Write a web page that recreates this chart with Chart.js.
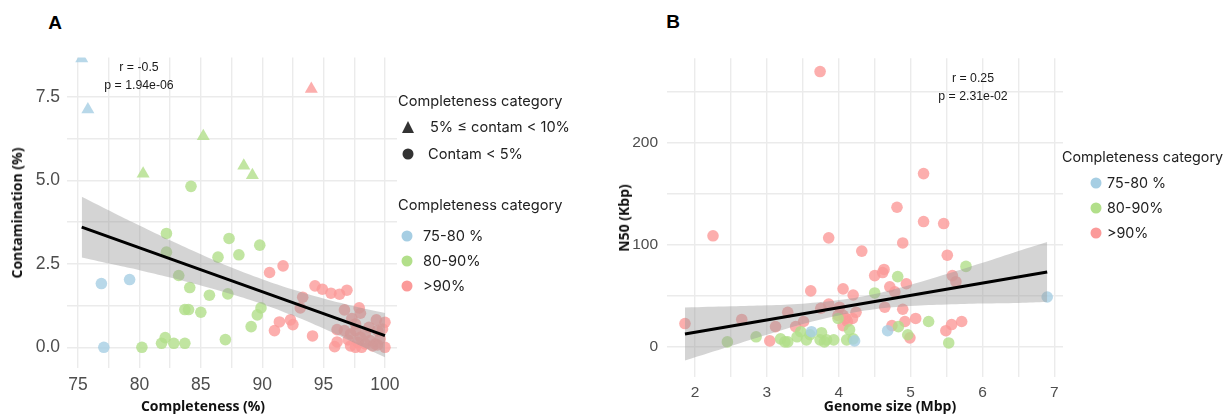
<!DOCTYPE html>
<html lang="en"><head>
<meta charset="UTF-8" />
<title>Completeness, contamination and N50</title>
<script src="https://cdn.jsdelivr.net/npm/chart.js"></script>
<style>
  * { margin: 0; padding: 0; box-sizing: border-box; }
  body { background: #fff; width: 1229px; height: 415px; overflow: hidden; }
  #wrap { position: relative; width: 1229px; height: 415px; }
  canvas { position: absolute; }
  #chartA { left: 0; top: 40px; }
  #chartB { left: 600px; top: 40px; }
  .t { position: absolute; white-space: nowrap; color: #1a1a1a; line-height: 1; }
  .c { transform: translate(-50%, -50%); }
  .l { transform: translateY(-50%); }
  .panel { font: bold 19px "Liberation Sans", Arial, sans-serif; color: #000; }
  .stat { font: 12.3px "Liberation Sans", Arial, sans-serif; color: #1a1a1a; }
  .axt { font: bold 14px "Open Sans", sans-serif; color: #111; line-height: 1; }
  .rot { transform: translate(-50%, -50%) rotate(-90deg); }
  .leg { font: 14.6px Inter, sans-serif; color: #222; line-height: 1; }
  .legB { font: 14.3px Inter, sans-serif; color: #222; line-height: 1; }
  .dot { position: absolute; width: 11px; height: 11px; border-radius: 50%; transform: translate(-50%, -50%); }
  .tri { position: absolute; width: 0; height: 0; transform: translate(-50%, -50%);
         border-left: 6.5px solid transparent; border-right: 6.5px solid transparent; border-bottom: 12px solid #333; }
</style>
</head>
<body>
<div id="wrap">
  <canvas id="chartA" width="422" height="375"></canvas>
  <canvas id="chartB" width="490" height="375"></canvas>

  <div class="t c panel" style="left:55px;top:23px">A</div>
  <div class="t c panel" style="left:673px;top:22px">B</div>

  <div class="t c stat" style="left:139px;top:67px">r = -0.5</div>
  <div class="t c stat" style="left:139px;top:85px">p = 1.94e-06</div>
  <div class="t c stat" style="left:973px;top:78px">r = 0.25</div>
  <div class="t c stat" style="left:973px;top:96px">p = 2.31e-02</div>

  <div class="t axt rot" style="left:17px;top:213px">Contamination (%)</div>
  <div class="t c axt" style="left:203px;top:406px">Completeness (%)</div>
  <div class="t axt rot" style="left:624px;top:218px">N50 (Kbp)</div>
  <div class="t c axt" style="left:890px;top:406px">Genome size (Mbp)</div>

  <!-- legend A -->
  <div class="t l leg" style="left:398px;top:101px">Completeness category</div>
  <div class="tri" style="left:408px;top:127px"></div>
  <div class="t l leg" style="left:430px;top:127px">5% ≤ contam &lt; 10%</div>
  <div class="dot" style="left:408px;top:154px;background:#333"></div>
  <div class="t l leg" style="left:428px;top:154px">Contam &lt; 5%</div>
  <div class="t l leg" style="left:398px;top:205px">Completeness category</div>
  <div class="dot" style="left:407px;top:236px;background:#a6cee3"></div>
  <div class="t l leg" style="left:423px;top:236px">75-80 %</div>
  <div class="dot" style="left:407px;top:261px;background:#b2df8a"></div>
  <div class="t l leg" style="left:423px;top:261px">80-90%</div>
  <div class="dot" style="left:407px;top:286px;background:#fb9a99"></div>
  <div class="t l leg" style="left:423px;top:286px">&gt;90%</div>

  <!-- legend B -->
  <div class="t l legB" style="left:1062px;top:157px">Completeness category</div>
  <div class="dot" style="left:1096px;top:183px;background:#a6cee3"></div>
  <div class="t l legB" style="left:1107px;top:183px">75-80 %</div>
  <div class="dot" style="left:1096px;top:208px;background:#b2df8a"></div>
  <div class="t l legB" style="left:1107px;top:208px">80-90%</div>
  <div class="dot" style="left:1096px;top:233px;background:#fb9a99"></div>
  <div class="t l legB" style="left:1107px;top:233px">&gt;90%</div>
</div>

<script>
  // ---- panel A : completeness (%) vs contamination (%) ----
  const aBlueTriX = [75.3, 75.8];
  const aBlueTriY = [8.65, 7.12];
  const aBlueX = [76.9, 79.2, 77.1];
  const aBlueY = [1.91, 2.03, 0.0];
  const aGreenTriX = [80.3, 85.2, 88.5, 89.2];
  const aGreenTriY = [5.2, 6.32, 5.44, 5.15];
  const aGreenX = [84.2, 82.2, 82.2, 83.2, 84.1, 83.7, 84.0, 85.0, 85.7, 86.4, 87.2, 87.3, 88.1, 89.8, 89.9, 89.6, 89.1, 87.0, 82.1, 81.8, 82.8, 83.7, 80.2];
  const aGreenY = [4.82, 3.41, 2.85, 2.15, 1.79, 1.13, 1.13, 1.05, 1.56, 2.70, 1.60, 3.26, 2.77, 3.06, 1.18, 0.97, 0.62, 0.23, 0.29, 0.12, 0.12, 0.12, 0.0];
  const aRedTriX = [94.0];
  const aRedTriY = [7.74];
  const aRedX = [90.6, 91.7, 91.0, 91.4, 92.3, 92.5, 93.3, 93.1, 94.1, 94.3, 94.9, 95.6, 96.3, 96.9, 96.7, 97.3, 97.9, 98.0, 99.3, 100.0,
                 96.1, 96.7, 97.2, 97.6, 98.4, 98.7, 99.4, 99.8, 95.9, 96.1, 97.0, 97.2, 97.6, 98.1, 98.4, 99.0, 99.4, 100.0, 98.8, 98.0,
                 97.6, 99.2, 99.6, 97.8];
  const aRedY = [2.24, 2.44, 0.50, 0.76, 0.82, 0.68, 1.50, 1.18, 0.34, 1.84, 1.74, 1.62, 1.59, 1.71, 1.12, 0.86, 1.18, 1.02, 0.82, 0.75,
                 0.53, 0.50, 0.40, 0.50, 0.41, 0.60, 0.50, 0.55, 0.02, 0.16, 0.22, 0.04, 0.00, 0.00, 0.10, 0.04, 0.07, 0.00, 0.20, 0.30,
                 0.70, 0.10, 0.25, 0.15];
  // fitted line and its confidence band
  const aFitX = [75.3, 100.0];
  const aFitY = [3.60, 0.35];
  const aBandX = [75.3, 78, 80, 82.5, 85, 87.5, 90, 92.5, 95, 97.5, 100];
  const aBandHi = [4.51, 4.01, 3.65, 3.21, 2.79, 2.39, 2.04, 1.73, 1.46, 1.23, 1.03];
  const aBandLo = [2.69, 2.47, 2.31, 2.09, 1.85, 1.59, 1.30, 0.95, 0.56, 0.13, -0.30];

  // ---- panel B : genome size (Mbp) vs N50 (Kbp) ----
  const bRedX = [3.74, 5.18, 4.81, 5.46, 5.18, 2.25, 3.86, 4.89, 4.32, 5.51, 4.63, 4.61, 4.50, 5.58, 5.63, 4.94, 4.71, 4.78, 3.61, 4.06,
                 4.20, 4.64, 4.89, 4.01, 3.86, 3.75, 3.29, 4.24, 3.99, 4.06, 4.10, 4.19, 4.06, 2.65, 1.86, 3.12, 3.51, 3.40, 3.04, 5.07,
                 4.92, 4.74, 5.71, 5.57, 5.49, 4.99, 4.12];
  const bRedY = [270, 170, 137, 121, 123, 109, 107, 102, 94, 90, 76, 73, 70, 70, 64, 62, 59, 54, 55, 57,
                 51, 39, 37, 39, 42, 38, 34, 34, 31, 31, 28, 28, 21, 27, 23, 20, 25, 20, 6, 28,
                 25, 21, 25, 22, 16, 9, 25];
  const bGreenX = [5.77, 4.82, 4.50, 3.99, 5.25, 4.83, 4.96, 5.53, 2.45, 2.85, 3.19, 3.25, 3.29, 3.42, 3.55, 3.60, 3.74, 3.76, 3.80, 3.83,
                   3.93, 4.11, 4.15, 4.20, 3.47];
  const bGreenY = [79, 69, 53, 28, 25, 20, 12, 4, 5, 10, 8, 5, 5, 10, 7, 12, 7, 14, 5, 7,
                   7, 7, 17, 8, 15];
  const bBlueX = [6.90, 4.68, 4.22, 3.62];
  const bBlueY = [49, 16, 6, 15];
  const bFitX = [1.86, 6.90];
  const bFitY = [12.7, 73.5];
  const bBandX = [1.86, 2.5, 3, 3.5, 4, 4.5, 5, 5.5, 6, 6.5, 6.9];
  const bBandHi = [38.7, 39.9, 40.9, 42.5, 46, 52, 61.1, 71.6, 82.6, 94.2, 103];
  const bBandLo = [-13.3, 0.9, 11.9, 22.5, 31, 37, 40.1, 41.6, 42.6, 43.2, 44];

  const blue = 'rgba(166, 206, 227, 0.8)';
  const green = 'rgba(178, 223, 138, 0.8)';
  const red = 'rgba(251, 154, 153, 0.8)';
  const bandFill = 'rgba(153, 153, 153, 0.42)';
  const gridCol = '#ebebeb';
  const tickCol = '#4d4d4d';

  const pts = (xs, ys) => xs.map((x, i) => ({ x: x, y: ys[i] }));
  const onStep = (v, s) => Math.abs(v / s - Math.round(v / s)) < 1e-6;

  function scatter(xs, ys, color, style) {
    return {
      type: 'scatter', data: pts(xs, ys), order: 3,
      backgroundColor: color, borderWidth: 0,
      pointStyle: style, pointRadius: style === 'triangle' ? 7.5 : 5.8, pointHoverRadius: 6
    };
  }

  function band(xs, hi, lo) {
    return [
      { type: 'line', data: pts(xs, hi), order: 2, fill: '+1', backgroundColor: bandFill,
        borderWidth: 0, pointRadius: 0, tension: 0.4 },
      { type: 'line', data: pts(xs, lo), order: 2, fill: false,
        borderWidth: 0, pointRadius: 0, tension: 0.4 }
    ];
  }

  function fit(xs, ys) {
    return { type: 'line', data: pts(xs, ys), order: 1, borderColor: '#000', borderWidth: 3,
             pointRadius: 0, fill: false };
  }

  function axis(min, max, step, label, fontSize, pad, fitSize, isY) {
    return {
      type: 'linear', min: min, max: max,
      grid: { color: gridCol, lineWidth: 1.4, drawTicks: false },
      border: { display: false },
      ticks: {
        stepSize: step, includeBounds: false, padding: pad, color: tickCol,
        font: { family: '"Liberation Sans", Arial, sans-serif', size: fontSize },
        maxRotation: 0, autoSkip: false,
        callback: label
      },
      afterFit: s => { if (isY) s.width = fitSize; else s.height = fitSize; }
    };
  }

  const common = {
    responsive: false, animation: false,
    plugins: { legend: { display: false }, tooltip: { enabled: false },
               filler: { drawTime: 'beforeDatasetDraw' } }
  };

  new Chart(document.getElementById('chartA'), {
    data: {
      datasets: [
        fit(aFitX, aFitY),
        ...band(aBandX, aBandHi, aBandLo),
        scatter(aBlueTriX, aBlueTriY, blue, 'triangle'),
        scatter(aGreenTriX, aGreenTriY, green, 'triangle'),
        scatter(aRedTriX, aRedTriY, red, 'triangle'),
        scatter(aBlueX, aBlueY, blue, 'circle'),
        scatter(aGreenX, aGreenY, green, 'circle'),
        scatter(aRedX, aRedY, red, 'circle')
      ]
    },
    options: {
      ...common,
      layout: { padding: { top: 12, right: 25, left: 0, bottom: 0 } },
      scales: {
        x: axis(74.1, 100.98, 2.5, v => (onStep(v, 5) ? String(Math.round(v)) : ''), 17.5, 7, 47, false),
        y: axis(-0.62, 8.68, 1.25, v => (onStep(v, 2.5) ? (Math.round(v / 2.5) * 2.5).toFixed(1) : ''), 17.5, 7, 67, true)
      }
    }
  });

  new Chart(document.getElementById('chartB'), {
    data: {
      datasets: [
        fit(bFitX, bFitY),
        ...band(bBandX, bBandHi, bBandLo),
        scatter(bBlueX, bBlueY, blue, 'circle'),
        scatter(bGreenX, bGreenY, green, 'circle'),
        scatter(bRedX, bRedY, red, 'circle')
      ]
    },
    options: {
      ...common,
      layout: { padding: { top: 18, right: 27, left: 0, bottom: 0 } },
      scales: {
        x: axis(1.61, 7.12, 0.5, v => (onStep(v, 1) ? String(Math.round(v)) : ''), 15.5, 6, 38, false),
        y: axis(-29.4, 283, 50, v => (onStep(v, 100) ? String(Math.round(v)) : ''), 15.5, 9, 67, true)
      }
    }
  });
</script>
</body>
</html>
